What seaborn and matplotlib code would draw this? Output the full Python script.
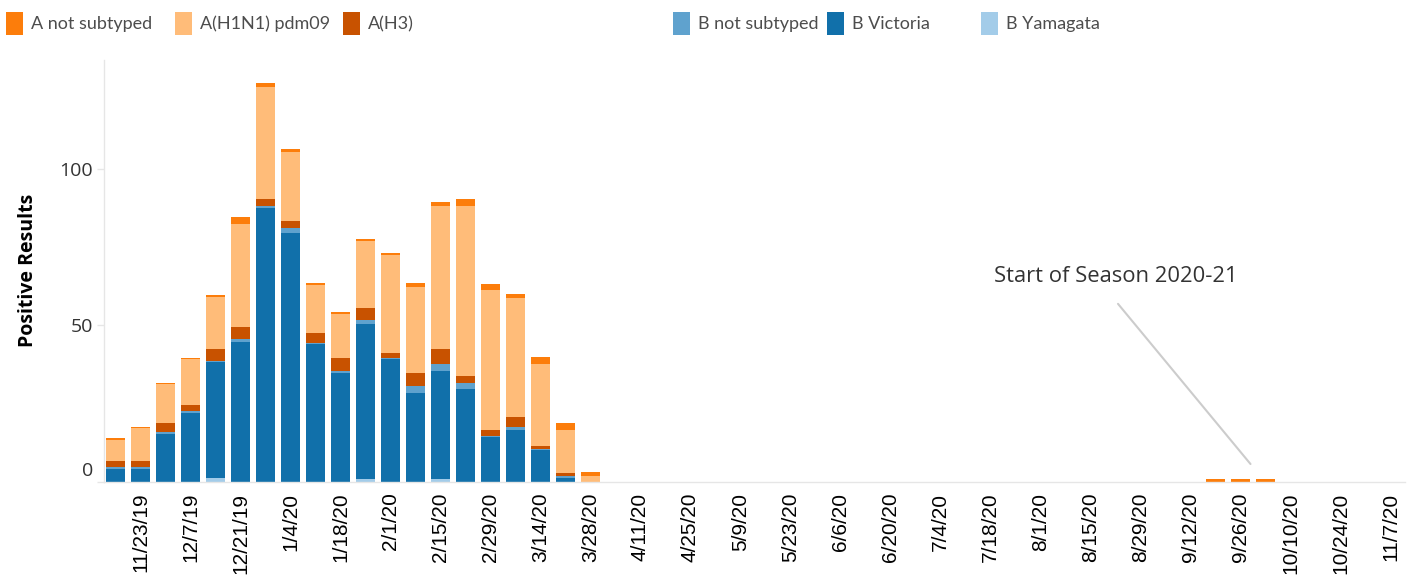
import pandas as pd
import seaborn as sns
import matplotlib.pyplot as plt
from matplotlib.patches import Rectangle
from matplotlib.transforms import ScaledTranslation

# weekly positive results, season 2019-20 into 2020-21
weeks = pd.date_range("2019-11-16", periods=52, freq="7D")
week_labels = [f"{d.month}/{d.day}/{d.strftime('%y')}" for d in weeks]

subtypes = ["A not subtyped", "A(H1N1) pdm09", "A(H3)",
            "B not subtyped", "B Victoria", "B Yamagata"]
colors = ["#fc7d0b", "#ffbc79", "#c85200", "#5fa2ce", "#1170aa", "#a3cce9"]

a_not_subtyped = [0.6, 0.6, 0.6, 0.6, 0.6, 2.2, 1.3, 0.9, 0.6, 0.6,
                  0.6, 0.6, 1.3, 1.3, 2.2, 2.2, 1.3, 2.2, 2.2, 1.3,
                  0, 0, 0, 0, 0, 0, 0, 0, 0, 0,
                  0, 0, 0, 0, 0, 0, 0, 0, 0, 0,
                  0, 0, 0, 0, 0.7, 0.7, 0.7, 0, 0, 0,
                  0, 0]
a_h1n1 = [6.7, 10.5, 12.4, 14.7, 16.9, 33.2, 35.7, 22.0, 15.3, 14.4,
          21.7, 31.3, 27.8, 46.0, 54.6, 44.7, 38.0, 26.2, 13.7, 1.8,
          0, 0, 0, 0, 0, 0, 0, 0, 0, 0,
          0, 0, 0, 0, 0, 0, 0, 0, 0, 0,
          0, 0, 0, 0, 0, 0, 0, 0, 0, 0,
          0, 0]
a_h3 = [1.9, 1.9, 2.9, 1.9, 3.8, 3.8, 2.2, 2.2, 3.2, 4.1,
        3.8, 1.9, 4.1, 4.8, 2.2, 1.9, 3.2, 1.0, 1.0, 0,
        0, 0, 0, 0, 0, 0, 0, 0, 0, 0,
        0, 0, 0, 0, 0, 0, 0, 0, 0, 0,
        0, 0, 0, 0, 0, 0, 0, 0, 0, 0,
        0, 0]
b_not_subtyped = [0.6, 0.6, 0.6, 0.6, 0.2, 1.0, 0.6, 1.6, 0.6, 0.6,
                  1.3, 0.3, 2.2, 2.2, 1.9, 0.3, 1.0, 0.3, 0.6, 0,
                  0, 0, 0, 0, 0, 0, 0, 0, 0, 0,
                  0, 0, 0, 0, 0, 0, 0, 0, 0, 0,
                  0, 0, 0, 0, 0, 0, 0, 0, 0, 0,
                  0, 0]
b_victoria = [4.0, 4.0, 15.2, 21.9, 37.3, 44.6, 87.7, 79.7, 43.9, 34.7,
              49.5, 39.1, 28.3, 34.5, 29.6, 14.3, 16.5, 10.1, 1.2, 0,
              0, 0, 0, 0, 0, 0, 0, 0, 0, 0,
              0, 0, 0, 0, 0, 0, 0, 0, 0, 0,
              0, 0, 0, 0, 0, 0, 0, 0, 0, 0,
              0, 0]
b_yamagata = [0, 0, 0, 0, 1.0, 0, 0, 0, 0, 0,
              0.85, 0, 0, 0.85, 0, 0, 0, 0, 0, 0,
              0, 0, 0, 0, 0, 0, 0, 0, 0, 0,
              0, 0, 0, 0, 0, 0, 0, 0, 0, 0,
              0, 0, 0, 0, 0, 0, 0, 0, 0, 0,
              0, 0]

series = [a_not_subtyped, a_h1n1, a_h3, b_not_subtyped, b_victoria, b_yamagata]
frames = []
for name, vals in zip(subtypes, series):
    frames.append(pd.DataFrame({"week": range(len(weeks)), "subtype": name, "count": vals}))
data = pd.concat(frames, ignore_index=True)

sns.set_style("white")
plt.rcParams["font.family"] = ["Open Sans", "DejaVu Sans"]

fig = plt.figure(figsize=(14.16, 5.8), dpi=100)
ax = fig.add_axes([104 / 1416, 98.5 / 580, 1301 / 1416, 421.5 / 580])

# stacked bars: last hue level sits at the bottom
sns.histplot(data=data, x="week", weights="count", hue="subtype",
             hue_order=subtypes, palette=colors, multiple="stack",
             discrete=True, shrink=0.76, alpha=1, linewidth=0,
             legend=False, ax=ax)

ax.set_xlim(-0.46, 51.58)
ax.set_ylim(0, 135)

ax.set_xticks(range(1, len(weeks), 2))
ax.set_xticklabels(week_labels[1::2], rotation=90, fontsize=15,
                   family="Liberation Sans", color="black")
ax.set_yticks([0, 50, 100])
ax.set_yticklabels(["0", "50", "100"], fontsize=14, color="#333333")
ax.tick_params(axis="x", length=3, width=1, color="#dddddd", pad=5)
ax.tick_params(axis="y", length=5, width=1, color="#e6e6e6", pad=3, left=True)
ax.set_xlabel("")
ax.set_ylabel("Positive Results", fontsize=14, fontweight="bold", color="black")
ax.yaxis.set_label_coords(-0.051, 0.5)

for side in ["top", "right"]:
    ax.spines[side].set_visible(False)
for side in ["left", "bottom"]:
    ax.spines[side].set_color("#e6e6e6")
    ax.spines[side].set_linewidth(1)

ax.annotate("", xy=(45.4, 5.6), xytext=(40.1, 56.9),
            arrowprops=dict(arrowstyle="-", color="#cccccc", lw=1.5,
                            shrinkA=0, shrinkB=0))
ax.text(40.0, 65.8, "Start of Season 2020-21", ha="center", va="center",
        fontsize=15.8, color="#333333")

# legend across the top
legend_x = [6, 175, 343, 673, 827, 981]
for x, name, c in zip(legend_x, subtypes, colors):
    fig.add_artist(Rectangle((x / 1416, 1 - 35 / 580), 17 / 1416, 23 / 580,
                             transform=fig.transFigure, color=c, lw=0))
    fig.text((x + 25) / 1416, 1 - 24 / 580, name, va="center", ha="left",
             fontsize=13, family=["Lato", "DejaVu Sans"], color="#4d4d4d")

# nudge the zero label up like the original
zero_lab = ax.get_yticklabels()[0]
zero_lab.set_transform(zero_lab.get_transform()
                       + ScaledTranslation(0, 12 / 100, fig.dpi_scale_trans))

fig.savefig("out.png", dpi=100)
